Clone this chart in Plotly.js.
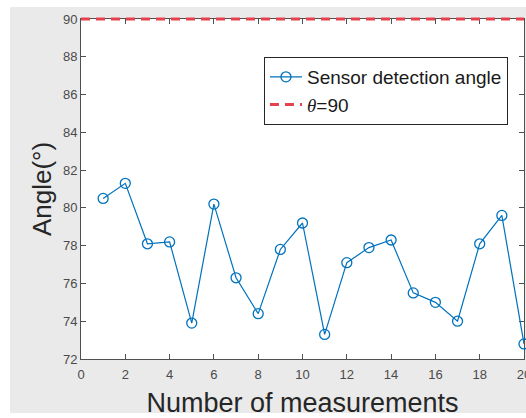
<!DOCTYPE html>
<html>
<head>
<meta charset="utf-8">
<script src="https://cdn.plot.ly/plotly-3.0.1.min.js"></script>
<style>html,body{margin:0;padding:0;background:#fff}#chart{width:526px;height:418px}</style>
</head>
<body>
<div id="chart"></div>
<script>
var measurementNo = [1,2,3,4,5,6,7,8,9,10,11,12,13,14,15,16,17,18,19,20];
var sensorAngle = [80.5,81.3,78.1,78.2,73.9,80.2,76.3,74.4,77.8,79.2,73.3,77.1,77.9,78.3,75.5,75.0,74.0,78.1,79.6,72.8];
var thetaX = [0,20];
var thetaY = [90,90];
var xTicks = [0,2,4,6,8,10,12,14,16,18,20];
var yTicks = [72,74,76,78,80,82,84,86,88,90];

// plot area: left 81, right 524, top of y-axis 19, bottom 359; extra 4px headroom for the theta line
var H = 344, AX = 340;
var yLo = 72, yHi = 90;
var y2Hi = yLo + (yHi - yLo) * H / AX;

var traces = [
  {x: measurementNo, y: sensorAngle, type:'scatter', mode:'lines+markers',
   name:'Sensor detection angle', cliponaxis:false, xaxis:'x', yaxis:'y',
   line:{color:'#0072BD', width:1.2},
   marker:{symbol:'circle-open', size:10, color:'#0072BD', line:{width:1.3}}},
  {x: thetaX, y: thetaY, type:'scatter', mode:'lines', xaxis:'x', yaxis:'y2',
   name:'<i style="font-family:\'Liberation Serif\',serif">θ</i>=90', cliponaxis:false,
   line:{color:'#E5424F', width:3, dash:'9px,6px'}}
];

var axisCommon = {
  showgrid:false, zeroline:false, showline:true, linecolor:'#505050', linewidth:1,
  mirror:'ticks', ticks:'inside', ticklen:5, tickcolor:'#505050', tickwidth:1,
  layer:'below traces', ticklabeloverflow:'allow',
  tickfont:{family:'Liberation Sans, Arial, sans-serif', size:13, color:'#4a4a4a'}
};

var layout = {
  width:526, height:418,
  margin:{l:81, r:2, t:15, b:59, pad:0},
  paper_bgcolor:'#EAEAEA', plot_bgcolor:'rgba(0,0,0,0)',
  showlegend:true,
  legend:{x:0.413, y:(359-57)/H, xanchor:'left', yanchor:'top', bgcolor:'#FFFFFF',
    bordercolor:'#262626', borderwidth:1, itemwidth:32,
    font:{family:'Liberation Sans, Arial, sans-serif', size:19, color:'#1a1a1a'},
    tracegroupgap:0},
  xaxis: Object.assign({}, axisCommon, {
    anchor:'y', range:[0,20], tickvals:xTicks, ticktext:xTicks.map(String), ticklabelstandoff:3,
    title:{text:'Number of measurements', standoff:12,
      font:{family:'Liberation Sans, Arial, sans-serif', size:27, color:'#262626'}}
  }),
  yaxis: Object.assign({}, axisCommon, {
    domain:[0, AX/H], anchor:'x',
    range:[yLo,yHi], tickvals:yTicks, ticktext:yTicks.map(String),
    title:{text:'Angle(°)', standoff:3,
      font:{family:'Liberation Sans, Arial, sans-serif', size:26, color:'#262626'}}
  }),
  yaxis2: {domain:[0,1], anchor:'x', range:[yLo, y2Hi], visible:false, showgrid:false, zeroline:false},
  shapes:[
    {type:'rect', xref:'x domain', yref:'y domain', x0:0, x1:1, y0:0, y1:1,
     fillcolor:'#FFFFFF', line:{width:0}, layer:'below'},
    {type:'rect', xref:'paper', yref:'paper', x0:-81/443, x1:-71/443, y0:-59/H, y1:(H+15)/H,
     fillcolor:'#FFFFFF', line:{width:0}, layer:'above'},
    {type:'rect', xref:'paper', yref:'paper', x0:-81/443, x1:445/443, y0:(H+8)/H, y1:(H+15)/H,
     fillcolor:'#FFFFFF', line:{width:0}, layer:'above'},
    {type:'rect', xref:'paper', yref:'paper', x0:-81/443, x1:445/443, y0:-59/H, y1:-54/H,
     fillcolor:'#FFFFFF', line:{width:0}, layer:'above'}
  ]
};

Plotly.newPlot('chart', traces, layout, {displayModeBar:false, staticPlot:true});
</script>
</body>
</html>
